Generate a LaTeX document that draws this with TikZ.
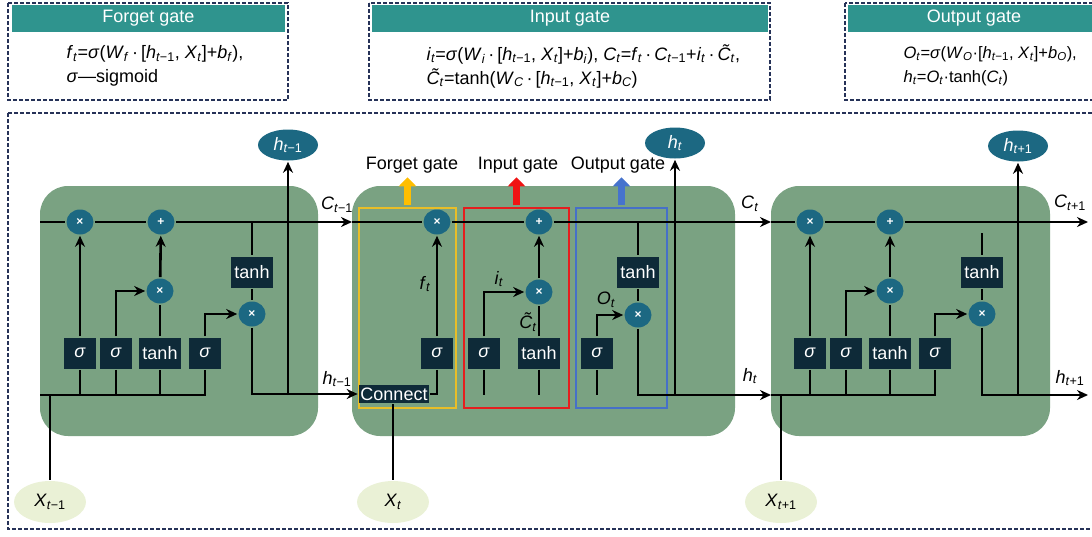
\documentclass[tikz,border=0pt]{standalone}
\usepackage{fontspec}
\setmainfont{Liberation Sans}
\usetikzlibrary{arrows.meta,shapes.geometric}
\definecolor{hdrT}{RGB}{47,148,142}
\definecolor{cellG}{RGB}{122,162,130}
\definecolor{boxD}{RGB}{14,42,56}
\definecolor{opB}{RGB}{28,104,130}
\definecolor{frmN}{RGB}{38,50,88}
\definecolor{inpY}{RGB}{234,241,214}
\definecolor{gY}{RGB}{232,190,40}
\definecolor{gR}{RGB}{228,30,30}
\definecolor{gB}{RGB}{70,112,200}
\definecolor{aY}{RGB}{255,190,0}
\definecolor{aR}{RGB}{240,20,20}
\definecolor{aB}{RGB}{70,115,205}
\newcommand{\sbi}[2]{\textit{#1}\textsubscript{\textit{#2}}}
\newcommand{\sbm}[1]{\textit{#1}\textsubscript{\textit{t}−1}}
\newcommand{\sbp}[1]{\textit{#1}\textsubscript{\textit{t}+1}}

\begin{document}
\begin{tikzpicture}[x=1pt, y=-1pt, font=\fontsize{18}{24}\selectfont,
  line width=2.6pt, >={Stealth[length=11pt,width=10pt]},
  fr/.style={draw=frmN, line width=1.3pt, dash pattern=on 4pt off 2pt},
  hd/.style={rectangle, fill=hdrT, text=white, minimum height=27pt, inner sep=0pt},
  cl/.style={rectangle, rounded corners=28pt, fill=cellG, minimum height=250pt},
  op/.style={ellipse, fill=opB, text=white, minimum width=27pt, minimum height=25pt,
             inner sep=0pt, font=\fontsize{12}{12}\selectfont\bfseries},
  fn/.style={rectangle, fill=boxD, text=white, minimum height=31pt, minimum width=32pt, inner sep=3pt},
  ho/.style={ellipse, fill=opB, text=white, minimum width=60pt, minimum height=31pt, inner sep=0pt},
  xi/.style={ellipse, fill=inpY, minimum width=72pt, minimum height=42pt, inner sep=0pt},
  gt/.style={rectangle, draw, line width=1.4pt, minimum height=200pt},
  ga/.style={-{Triangle[length=9pt,width=17pt]}, line width=7pt}]
  \useasboundingbox (0,0) rectangle (1092,536);
  \clip (0,0) rectangle (1092,536);

  % formula panels
  \draw[fr] (8,3) rectangle (288,100);
  \node[hd, minimum width=273pt] (fgH) at (148.5,18.5) {Forget gate};
  \node[anchor=west, align=left] (fgEq) at (62,66)
    {\sbi{f}{t}=\textit{σ}(\sbi{W}{f}\,·\,[\sbm{h}, \sbi{X}{t}]+\sbi{b}{f}),\\ \textit{σ}—sigmoid};
  \draw[fr] (369,3) rectangle (770,100);
  \node[hd, minimum width=396pt] (inH) at (570,18.5) {Input gate};
  \node[anchor=west, align=left] (inEq) at (422,66)
    {\sbi{i}{t}=\textit{σ}(\sbi{W}{i}\,·\,[\sbm{h}, \sbi{X}{t}]+\sbi{b}{i}), \sbi{C}{t}=\sbi{f}{t}\,·\,\sbm{C}+\sbi{i}{t}\,·\,\sbi{C̃}{t},\\
     \sbi{C̃}{t}=tanh(\sbi{W}{C}\,·\,[\sbm{h}, \sbi{X}{t}]+\sbi{b}{C})};
  \draw[fr] (845,3) rectangle (1100,100);
  \node[hd, minimum width=252pt] (ouH) at (974,18.5) {Output gate};
  \node[anchor=west, align=left, font=\fontsize{16.5}{24}\selectfont] (ouEq) at (899,66)
    {\sbi{O}{t}=\textit{σ}(\sbi{W}{O}·[\sbm{h}, \sbi{X}{t}]+\sbi{b}{O}),\\ \sbi{h}{t}=\sbi{O}{t}·tanh(\sbi{C}{t})};

  % unrolled cells
  \draw[fr] (8,113) rectangle (1100,529);
  \node[cl, minimum width=278pt] (cell1) at (179,311) {};
  \node[cl, minimum width=383pt] (cell2) at (543.5,311) {};
  \node[cl, minimum width=279pt] (cell3) at (910.5,311) {};

  % cell t-1
  \node[op] (c1f) at (80,222) {×};
  \node[op] (c1a) at (161,222) {+};
  \node[op] (c1i) at (160,291) {×};
  \node[op] (c1o) at (252,314) {×};
  \node[fn] (s1f) at (80,353) {\textit{σ}};
  \node[fn] (s1i) at (116,353) {\textit{σ}};
  \node[fn] (t1c) at (160,353) {tanh};
  \node[fn] (s1o) at (205,353) {\textit{σ}};
  \node[fn] (t1h) at (252,272) {tanh};
  \node[ho] (h1) at (288,145) {\sbm{h}};
  \node[xi] (X1) at (50,502) {\sbm{X}};
  \node (lC1) at (337,205) {\sbm{C}};
  \node (lh1) at (337,379) {\sbm{h}};
  \coordinate (c1in) at (40,222); \coordinate (C1e) at (352,222); \coordinate (x1l) at (40,395);
  \draw[->] (c1in) -- (c1f) -- (c1a) -- (C1e);
  \draw[->] (s1f) -- (c1f); \draw[->] (s1i) |- (c1i); \draw (t1c) -- (c1i); \draw[->] (c1i) -- (c1a);
  \draw[->] (s1o) |- (c1o); \draw (t1h.north |- c1a) -- (t1h); \draw (t1h) -- (c1o);
  \draw (x1l) -| (s1o);
  \draw (s1f) -- (s1f |- x1l); \draw (s1i) -- (s1i |- x1l); \draw (t1c) -- (t1c |- x1l);
  \draw (X1) -- (X1 |- x1l);
  \draw[->] (h1 |- x1l) -- (h1);

  % cell t
  \node[gt, draw=gY, minimum width=97pt] (fgB) at (407.5,308) {};
  \node[gt, draw=gR, minimum width=105pt] (inB) at (516.5,308) {};
  \node[gt, draw=gB, minimum width=91pt] (ouB) at (621.5,308) {};
  \node (fgL) at (412,165) {Forget gate};
  \node (inL) at (518,165) {Input gate};
  \node (ouL) at (618,165) {Output gate};
  \draw[ga, aY] ([yshift=2pt]fgB.north) -- ([yshift=30pt]fgB.north);
  \draw[ga, aR] ([yshift=2pt]inB.north) -- ([yshift=30pt]inB.north);
  \draw[ga, aB] ([yshift=2pt]ouB.north) -- ([yshift=30pt]ouB.north);
  \node[op] (c2f) at (437,222) {×};
  \node[op] (c2a) at (539,222) {+};
  \node[op] (c2i) at (539,292) {×};
  \node[op] (c2o) at (638,315) {×};
  \node[fn] (s2f) at (437,353) {\textit{σ}};
  \node[fn] (s2i) at (484,353) {\textit{σ}};
  \node[fn] (t2c) at (539,353) {tanh};
  \node[fn] (s2o) at (597,353) {\textit{σ}};
  \node[fn] (t2h) at (638,272) {tanh};
  \node[fn, minimum height=18pt, inner sep=1.5pt] (conn) at (394,394) {Connect};
  \node[ho] (h2) at (675,143) {\sbi{h}{t}};
  \node[xi] (X2) at (393,502) {\sbi{X}{t}};
  \node (lf) at (425,284) {\sbi{f}{t}};
  \node (li) at (499,279) {\sbi{i}{t}};
  \node (lCt) at (528,322) {\sbi{C̃}{t}};
  \node (lO) at (606,300) {\sbi{O}{t}};
  \node (lC2) at (750,204) {\sbi{C}{t}};
  \node (lh2) at (750,376) {\sbi{h}{t}};
  \coordinate (C2e) at (771,222); \coordinate (h2e) at (771,395);
  \draw[->] (C1e) -- (c2f) -- (c2a) -- (C2e);
  \draw[->] (c1o) |- (conn);
  \draw (s2f) |- (conn); \draw[->] (s2f) -- (c2f);
  \draw (X2) -- (X2 |- conn.south);
  \draw[->] (s2i) |- (c2i); \draw (t2c) -- (c2i); \draw[->] (c2i) -- (c2a);
  \draw (s2i) -- (s2i |- h2e); \draw (t2c) -- (t2c |- h2e);
  \draw[->] (s2o) |- (c2o); \draw (s2o) -- (s2o |- h2e);
  \draw (t2h.north |- c2a) -- (t2h); \draw (t2h) -- (c2o);
  \draw[->] (c2o) |- (h2e);
  \draw[->] (h2 |- h2e) -- (h2);

  % cell t+1
  \node[op] (c3f) at (810,222) {×};
  \node[op] (c3a) at (890,222) {+};
  \node[op] (c3i) at (890,291) {×};
  \node[op] (c3o) at (982,314) {×};
  \node[fn] (s3f) at (810,353) {\textit{σ}};
  \node[fn] (s3i) at (846,353) {\textit{σ}};
  \node[fn] (t3c) at (890,353) {tanh};
  \node[fn] (s3o) at (935,353) {\textit{σ}};
  \node[fn] (t3h) at (982,272) {tanh};
  \node[ho] (h3) at (1018,146) {\sbp{h}};
  \node[xi] (X3) at (781,502) {\sbp{X}};
  \node (lC3) at (1070,203) {\sbp{C}};
  \node (lh3) at (1070,378) {\sbp{h}};
  \coordinate (C3e) at (1088,222); \coordinate (h3e) at (1088,395); \coordinate (t3top) at (982,233);
  \draw[->] (C2e) -- (c3f) -- (c3a) -- (C3e);
  \draw[->] (s3f) -- (c3f); \draw[->] (s3i) |- (c3i); \draw (t3c) -- (c3i); \draw[->] (c3i) -- (c3a);
  \draw[->] (s3o) |- (c3o); \draw (t3top) -- (t3h); \draw (t3h) -- (c3o);
  \draw[->] (c3o) |- (h3e);
  \draw (h2e) -| (s3o);
  \draw (s3f) -- (s3f |- h2e); \draw (s3i) -- (s3i |- h2e); \draw (t3c) -- (t3c |- h2e);
  \draw (X3) -- (X3 |- h2e);
  \draw[->] (h3 |- h2e) -- (h3);
\end{tikzpicture}
\end{document}
